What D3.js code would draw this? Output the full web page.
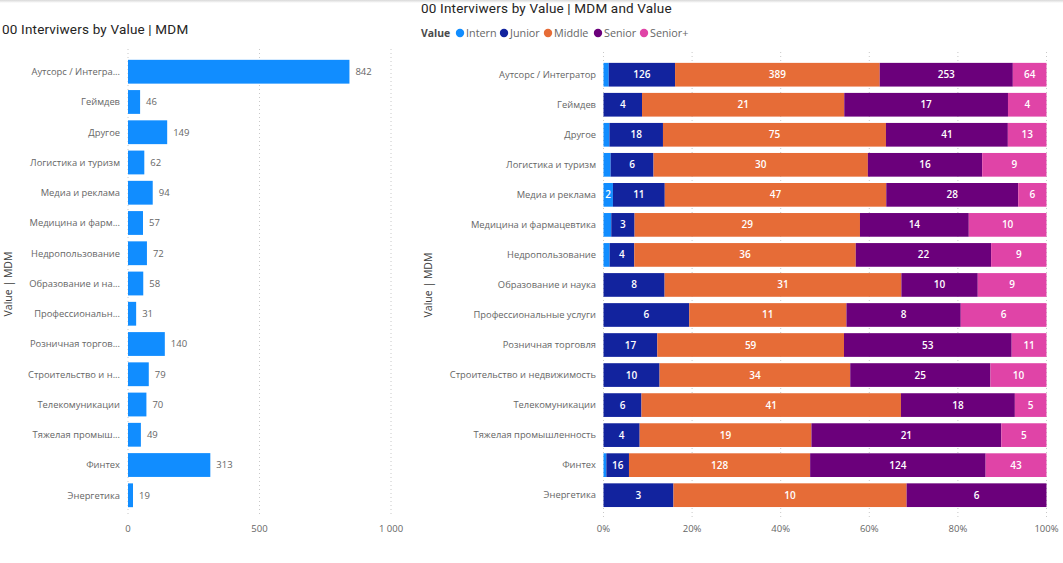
<!DOCTYPE html>
<html><head><meta charset="utf-8">
<script src="https://cdn.jsdelivr.net/npm/d3@7"></script>
<style>
html,body{margin:0;padding:0;background:#fff;overflow:hidden}
svg{display:block}
text{font-family:"Open Sans","Noto Sans",sans-serif}
.ttl{font-family:Roboto,"Noto Sans",sans-serif;font-size:13.5px;fill:#252423;letter-spacing:.18px}
.cat{font-size:9.35px;fill:#666}
.tick{font-size:9.5px;fill:#666}
.val{font-size:9.5px;fill:#666}
.seg{font-size:10px;fill:#fff;font-weight:600}
.axt{font-size:10.5px;fill:#404040}
.leg{font-size:10.8px;fill:#666}
</style></head><body>
<svg id="c" width="1063" height="563"></svg>
<script>
const categoriesFull=["Аутсорс / Интегратор","Геймдев","Другое","Логистика и туризм","Медиа и реклама","Медицина и фармацевтика","Недропользование","Образование и наука","Профессиональные услуги","Розничная торговля","Строительство и недвижимость","Телекомуникации","Тяжелая промышленность","Финтех","Энергетика"];
const categoriesShort=["Аутсорс / Интегра...","Геймдев","Другое","Логистика и туризм","Медиа и реклама","Медицина и фарм...","Недропользование","Образование и на...","Профессиональн...","Розничная торгов...","Строительство и н...","Телекомуникации","Тяжелая промыш...","Финтех","Энергетика"];
const totals=[842,46,149,62,94,57,72,58,31,140,79,70,49,313,19];
const intern=[10,0,2,1,2,1,1,0,0,0,0,0,0,2,0];
const junior=[126,4,18,6,11,3,4,8,6,17,10,6,4,16,3];
const middle=[389,21,75,30,47,29,36,31,11,59,34,41,19,128,10];
const senior=[253,17,41,16,28,14,22,10,8,53,25,18,21,124,6];
const seniorPlus=[64,4,13,9,6,10,9,9,6,11,10,5,5,43,0];
const seriesNames=["Intern","Junior","Middle","Senior","Senior+"];
const seriesColors=["#118DFF","#12239E","#E66C37","#6B007B","#E044A7"];
const leftTicks=[0,500,1000];
const rightTicks=[0,.2,.4,.6,.8,1];
const titleLeft="00 Interviwers by Value | MDM";
const titleRight="00 Interviwers by Value | MDM and Value";
const axisTitle="Value | MDM";
const legendTitle="Value";

const svg=d3.select("#c");
const defs=svg.append("defs");
const g=defs.append("linearGradient").attr("id","sh").attr("x1",0).attr("x2",0).attr("y1",0).attr("y2",1);
g.append("stop").attr("offset",0).attr("stop-color","#d8d8d8");
g.append("stop").attr("offset",1).attr("stop-color","#fff");
svg.append("rect").attr("width",1063).attr("height",3).attr("fill","url(#sh)");

const idx=d3.range(categoriesFull.length);
const yL=d3.scaleBand().domain(idx).range([56.6,510.4]).paddingInner(.213).paddingOuter(.1065);
const yR=d3.scaleBand().domain(idx).range([59.7,510.2]).paddingInner(.211).paddingOuter(.1055);
const fmt=v=>v>=1000?d3.format(",")(v).replace(","," "):String(v);

// left chart
const xL=d3.scaleLinear().domain([0,1000]).range([128,391]);
const L=svg.append("g");
L.append("text").attr("class","ttl").attr("x",2).attr("y",34).text(titleLeft);
L.selectAll(".gl").data(leftTicks).join("line")
 .attr("x1",d=>xL(d)).attr("x2",d=>xL(d)).attr("y1",49).attr("y2",517)
 .attr("stroke","#c8c8c8").attr("stroke-width",1).attr("stroke-dasharray","1 3");
L.selectAll(".bar").data(idx).join("rect")
 .attr("x",xL(0)).attr("y",i=>yL(i)).attr("width",i=>xL(totals[i])-xL(0)).attr("height",yL.bandwidth())
 .attr("fill",seriesColors[0]);
L.selectAll(".val").data(idx).join("text").attr("class","val")
 .attr("x",i=>xL(totals[i])+6).attr("y",i=>yL(i)+yL.bandwidth()/2).attr("dy",".35em").text(i=>totals[i]);
L.selectAll(".cat").data(idx).join("text").attr("class","cat")
 .attr("x",120).attr("y",i=>yL(i)+yL.bandwidth()/2).attr("dy",".35em").attr("text-anchor","end").text(i=>categoriesShort[i]);
L.selectAll(".tick").data(leftTicks).join("text").attr("class","tick")
 .attr("x",d=>xL(d)).attr("y",532).attr("text-anchor","middle").text(fmt);
L.append("text").attr("class","axt").attr("transform","translate(12,284) rotate(-90)").attr("text-anchor","middle").text(axisTitle);

// right chart
const xR=d3.scaleLinear().domain([0,1]).range([603.5,1046.5]);
const R=svg.append("g");
R.append("text").attr("class","ttl").attr("x",421).attr("y",13).text(titleRight);
R.selectAll(".gl").data(rightTicks).join("line")
 .attr("x1",d=>xR(d)).attr("x2",d=>xR(d)).attr("y1",52).attr("y2",517)
 .attr("stroke","#c8c8c8").attr("stroke-width",1).attr("stroke-dasharray","1 3");
const stack=d3.stack().keys(seriesNames).offset(d3.stackOffsetExpand)
 (idx.map(i=>({Intern:intern[i],Junior:junior[i],Middle:middle[i],Senior:senior[i],"Senior+":seniorPlus[i],i})));
stack.forEach((s,k)=>{
  const gs=R.append("g");
  gs.selectAll("rect").data(s).join("rect")
    .attr("x",d=>xR(d[0])).attr("y",d=>yR(d.data.i)).attr("width",d=>xR(d[1])-xR(d[0])).attr("height",yR.bandwidth())
    .attr("fill",seriesColors[k]);
  gs.selectAll("text").data(s.filter(d=>xR(d[1])-xR(d[0])>8)).join("text").attr("class","seg")
    .attr("x",d=>(xR(d[0])+xR(d[1]))/2).attr("y",d=>yR(d.data.i)+yR.bandwidth()/2).attr("dy",".35em")
    .attr("text-anchor","middle").text(d=>d.data[s.key]);
});
R.selectAll(".cat").data(idx).join("text").attr("class","cat")
 .attr("x",596).attr("y",i=>yR(i)+yR.bandwidth()/2).attr("dy",".35em").attr("text-anchor","end").text(i=>categoriesFull[i]);
R.selectAll(".tick").data(rightTicks).join("text").attr("class","tick")
 .attr("x",d=>xR(d)).attr("y",532).attr("text-anchor","middle").text(d3.format(".0%"));
R.append("text").attr("class","axt").attr("transform","translate(432,285) rotate(-90)").attr("text-anchor","middle").text(axisTitle);

// legend
const leg=svg.append("g");
leg.append("text").attr("x",421).attr("y",37).style("font-size","10.4px").style("font-weight","700").style("fill","#4a4a4a").text(legendTitle);
const legendX=[460,504,548,598,644];
seriesNames.forEach((n,k)=>{
  leg.append("circle").attr("cx",legendX[k]).attr("cy",33).attr("r",4.2).attr("fill",seriesColors[k]);
  leg.append("text").attr("class","leg").attr("x",legendX[k]+6).attr("y",37).text(n);
});
</script></body></html>
